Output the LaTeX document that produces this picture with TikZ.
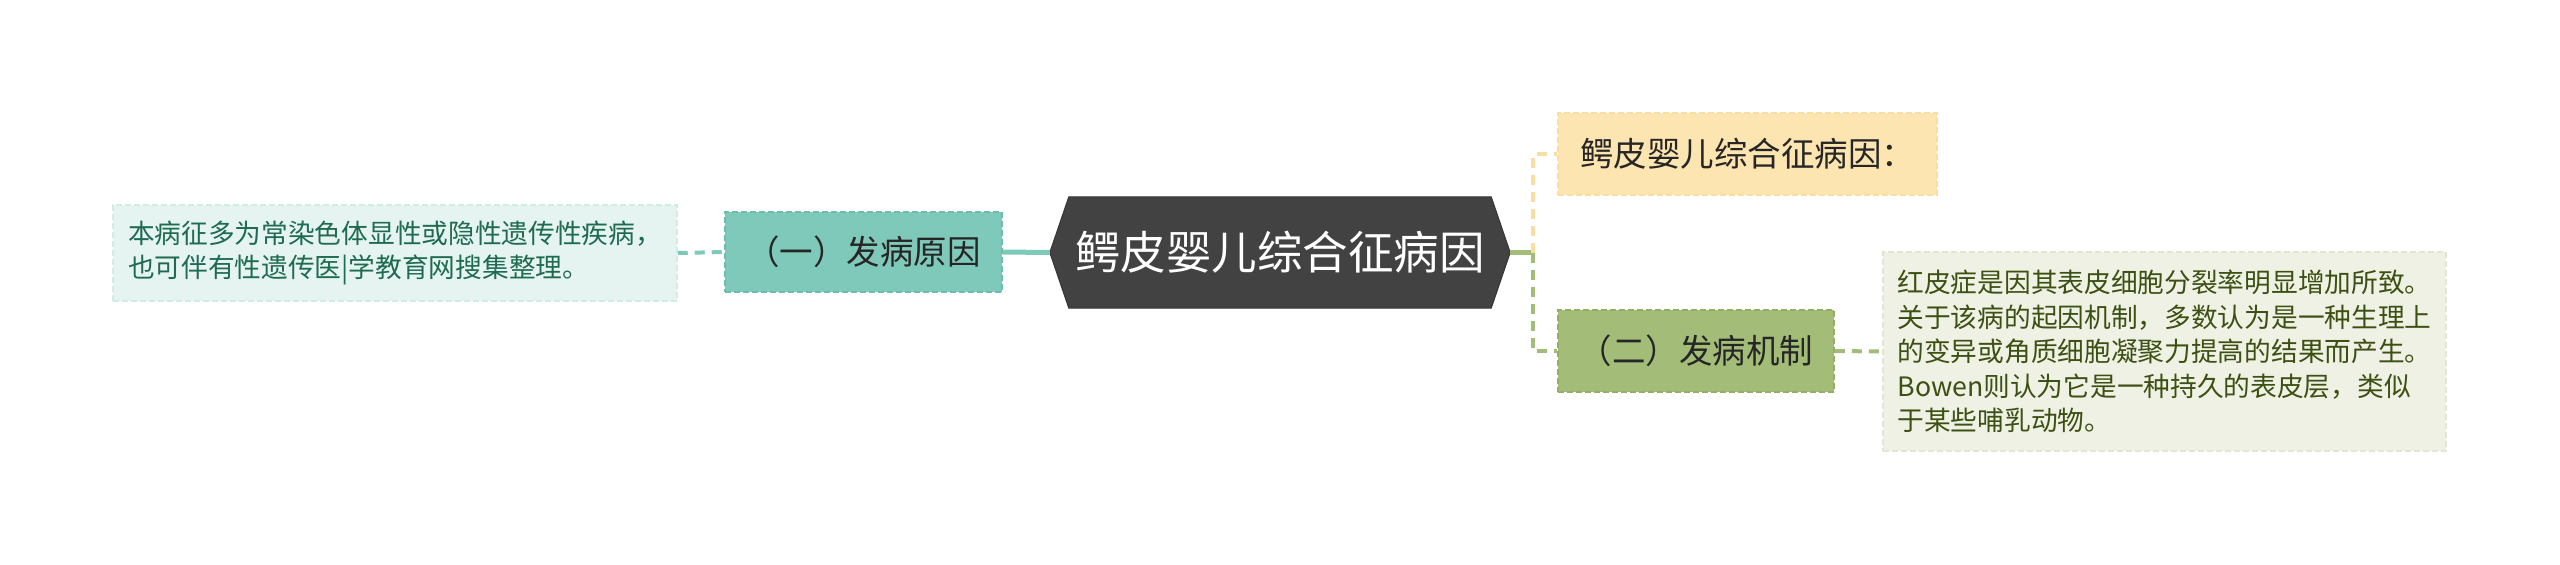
\documentclass[tikz,border=0pt]{standalone}
\usepackage{fontspec}
\newfontfamily\cjk{Noto Sans CJK SC}
\usetikzlibrary{backgrounds}
\definecolor{rootgray}{HTML}{424242}
\definecolor{causeteal}{HTML}{7FC9BA}
\definecolor{causeline}{HTML}{6DBDAC}
\definecolor{notemint}{HTML}{E5F4F0}
\definecolor{notemintline}{HTML}{D3EBE5}
\definecolor{notemintext}{HTML}{1E6B51}
\definecolor{reasonyellow}{HTML}{FDE5B1}
\definecolor{reasonline}{HTML}{F9DDA2}
\definecolor{mechgreen}{HTML}{A3BD78}
\definecolor{mechline}{HTML}{93AF66}
\definecolor{notesage}{HTML}{EEF1E4}
\definecolor{notesageline}{HTML}{E0E6D2}
\definecolor{notesagetext}{HTML}{3D5013}

\begin{document}
\begin{tikzpicture}[x=1pt,y=-1pt,
  branch/.style={draw, dash pattern=on 6pt off 3pt, line width=1.5pt,
    inner sep=0pt, minimum height=82pt, text=black!85,
    font=\cjk\fontsize{33.5}{40}\selectfont},
  note/.style={draw, dash pattern=on 6pt off 3pt, line width=1.5pt,
    inner sep=0pt, align=left, font=\cjk\fontsize{26.7}{34.5}\selectfont},
  link/.style={line width=4pt, dash pattern=on 10pt off 7pt},
  trunk/.style={line width=5pt}]

\node[inner sep=0pt, minimum width=422pt, minimum height=111pt, text=white,
  font=\cjk\fontsize{45.5}{54}\selectfont] (root) at (1280,252.5) {鳄皮婴儿综合征病因};
\coordinate (rootw) at ([xshift=-19pt]root.west);
\coordinate (roote) at ([xshift=19pt]root.east);

\begin{scope}[on background layer]
\fill[white] (0,0) rectangle (2560,565);
\filldraw[fill=rootgray, draw=rootgray!80!black, line width=1pt]
  (root.north west) -- (root.north east) -- (roote) -- (root.south east)
  -- (root.south west) -- (rootw) -- cycle;
\end{scope}
\useasboundingbox (0,0) rectangle (2560,565);

\node[branch, fill=causeteal, draw=causeline, minimum width=277pt, minimum height=80pt]
  (cause) at (863.5,252) {（一）发病原因};
\node[note, fill=notemint, draw=notemintline, text=notemintext,
  minimum width=564pt, minimum height=96pt] (causenote) at (395,253)
  {本病征多为常染色体显性或隐性遗传性疾病，\\也可伴有性遗传医|学教育网搜集整理。};

\node[branch, fill=reasonyellow, draw=reasonline, minimum width=379pt]
  (reason) at (1747.5,154) {鳄皮婴儿综合征病因：};
\node[branch, fill=mechgreen, draw=mechline, minimum width=276pt]
  (mech) at (1696,351) {（二）发病机制};
\node[note, fill=notesage, draw=notesageline, text=notesagetext,
  minimum width=563pt, minimum height=199pt] (mechnote) at (2164.5,351.5)
  {红皮症是因其表皮细胞分裂率明显增加所致。\\关于该病的起因机制，多数认为是一种生理上\\的变异或角质细胞凝聚力提高的结果而产生。\\Bowen则认为它是一种持久的表皮层，类似\\于某些哺乳动物。};

\coordinate (fork) at (1533,252.5);
\draw[link, causeteal] (causenote.east) -- (cause.west);
\draw[trunk, causeteal] (cause.east) -- (rootw);
\draw[trunk, mechgreen] (roote) -- (fork);
\draw[link, reasonline] (fork) |- (reason.west);
\draw[link, mechgreen] (fork) |- (mech.west);
\draw[link, mechgreen] (mech.east) -- (mechnote.west);
\end{tikzpicture}
\end{document}
